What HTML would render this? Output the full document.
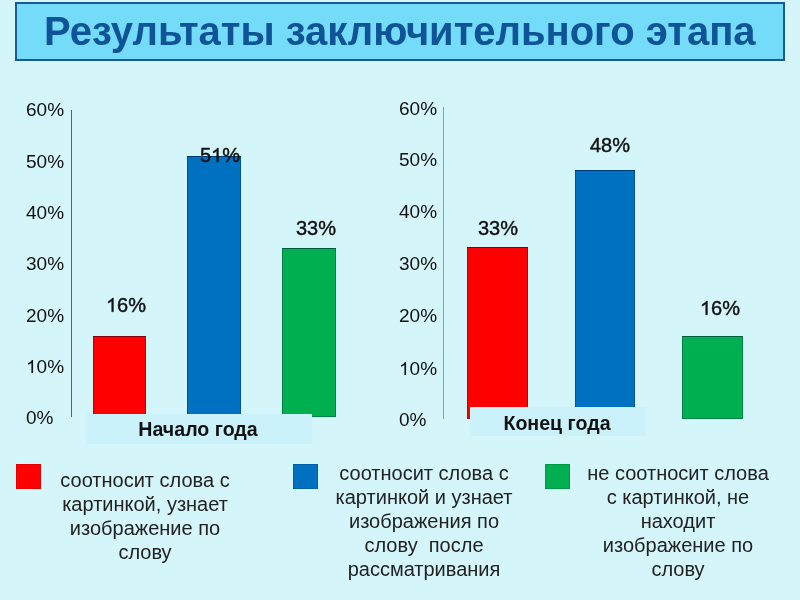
<!DOCTYPE html>
<html>
<head>
<meta charset="utf-8">
<style>
html,body{margin:0;padding:0;}
body{width:800px;height:600px;overflow:hidden;position:relative;background:#d4f5fa;font-family:"Liberation Sans",sans-serif;}
.a{position:absolute;}
#title{position:absolute;left:15px;top:2px;width:766px;height:55px;border:2px solid #185a92;background:#74dbf8;}
#title span{position:absolute;will-change:transform;left:27px;top:7px;font-size:40px;font-weight:bold;color:#0f5496;line-height:40px;white-space:nowrap;}
.yl{position:absolute;will-change:transform;font-size:19px;line-height:20px;color:#111;white-space:nowrap;}
.vl{position:absolute;will-change:transform;font-size:20px;line-height:20px;color:#111;-webkit-text-stroke:0.42px #111;white-space:nowrap;text-align:center;width:80px;}
.bar{position:absolute;box-shadow:inset 0 1px 0 rgba(0,0,30,.3),inset 0 0 0 1px rgba(0,0,40,.25);}
.r{background:#ff0000;}
.b{background:#0070c0;}
.g{background:#00b050;}
.lbl{position:absolute;will-change:transform;background:#cbf1fb;font-size:19.6px;font-weight:bold;color:#111;text-align:center;white-space:nowrap;}
.sq{position:absolute;width:25px;height:25px;top:464px;box-shadow:inset 0 0 0 1px rgba(0,0,0,.12);}
.leg{position:absolute;will-change:transform;font-size:20px;line-height:24px;color:#222;text-align:center;white-space:nowrap;}
.one{display:inline-block;width:0.5562em;height:0;position:relative;}
.one svg{position:absolute;left:0;bottom:0;width:0.5562em;height:0.688em;overflow:visible;fill:currentColor;}
.vl .one svg{stroke:#111;stroke-width:43;}
</style>
</head>
<body>
<div id="title"><span>Результаты заключительного этапа</span></div>

<!-- left chart -->
<div class="a" style="left:71px;top:110px;width:1px;height:307px;background:#4d6a70;"></div>
<div class="yl" style="left:26px;top:99.5px;">60%</div>
<div class="yl" style="left:26px;top:151.5px;">50%</div>
<div class="yl" style="left:26px;top:203px;">40%</div>
<div class="yl" style="left:26px;top:254px;">30%</div>
<div class="yl" style="left:26px;top:305.5px;">20%</div>
<div class="yl" style="left:26px;top:357px;"><span class="one"><svg viewBox="0 0 1139 1409"><path d="M763,1409L583,1409L583,311Q518,371 412,430Q307,489 223,519L223,352Q374,284 487,188Q600,91 647,0L763,0Z"/></svg></span>0%</div>
<div class="yl" style="left:26px;top:408px;">0%</div>

<div class="bar r" style="left:93px;top:336px;width:53px;height:81px;"></div>
<div class="bar b" style="left:187px;top:156px;width:54px;height:261px;"></div>
<div class="bar g" style="left:282px;top:248px;width:54px;height:169px;"></div>

<div class="vl" style="left:86px;top:295px;"><span class="one"><svg viewBox="0 0 1139 1409"><path d="M763,1409L583,1409L583,311Q518,371 412,430Q307,489 223,519L223,352Q374,284 487,188Q600,91 647,0L763,0Z"/></svg></span>6%</div>
<div class="vl" style="left:180px;top:145px;">5<span class="one"><svg viewBox="0 0 1139 1409"><path d="M763,1409L583,1409L583,311Q518,371 412,430Q307,489 223,519L223,352Q374,284 487,188Q600,91 647,0L763,0Z"/></svg></span>%</div>
<div class="vl" style="left:276px;top:218px;">33%</div>

<div class="lbl" style="left:86px;top:414px;width:224px;padding-right:2px;height:30px;line-height:30px;">Начало года</div>

<!-- right chart -->
<div class="a" style="left:443px;top:107px;width:1px;height:312px;background:#82a2a8;"></div>
<div class="yl" style="left:399px;top:98.5px;">60%</div>
<div class="yl" style="left:399px;top:150px;">50%</div>
<div class="yl" style="left:399px;top:202px;">40%</div>
<div class="yl" style="left:399px;top:254px;">30%</div>
<div class="yl" style="left:399px;top:306px;">20%</div>
<div class="yl" style="left:399px;top:358.5px;"><span class="one"><svg viewBox="0 0 1139 1409"><path d="M763,1409L583,1409L583,311Q518,371 412,430Q307,489 223,519L223,352Q374,284 487,188Q600,91 647,0L763,0Z"/></svg></span>0%</div>
<div class="yl" style="left:399px;top:410px;">0%</div>

<div class="bar r" style="left:467px;top:247px;width:61px;height:172px;"></div>
<div class="bar b" style="left:575px;top:170px;width:60px;height:249px;"></div>
<div class="bar g" style="left:682px;top:336px;width:61px;height:83px;"></div>

<div class="vl" style="left:458px;top:218px;">33%</div>
<div class="vl" style="left:570px;top:135px;">48%</div>
<div class="vl" style="left:680px;top:298px;"><span class="one"><svg viewBox="0 0 1139 1409"><path d="M763,1409L583,1409L583,311Q518,371 412,430Q307,489 223,519L223,352Q374,284 487,188Q600,91 647,0L763,0Z"/></svg></span>6%</div>

<div class="lbl" style="left:470px;top:407px;width:174px;padding-right:2px;height:27px;padding-top:2px;line-height:29px;">Конец года</div>

<!-- legend -->
<div class="sq r" style="left:16px;"></div>
<div class="sq b" style="left:293px;"></div>
<div class="sq g" style="left:545px;"></div>

<div class="leg" style="left:45px;width:200px;top:467.5px;">соотносит слова с<br>картинкой, узнает<br>изображение по<br>слову</div>
<div class="leg" style="left:324px;width:200px;top:460.5px;">соотносит слова с<br>картинкой и узнает<br>изображения по<br>слову&nbsp; после<br>рассматривания</div>
<div class="leg" style="left:578px;width:200px;top:460.5px;">не соотносит слова<br>с картинкой, не<br>находит<br>изображение по<br>слову</div>
</body>
</html>
